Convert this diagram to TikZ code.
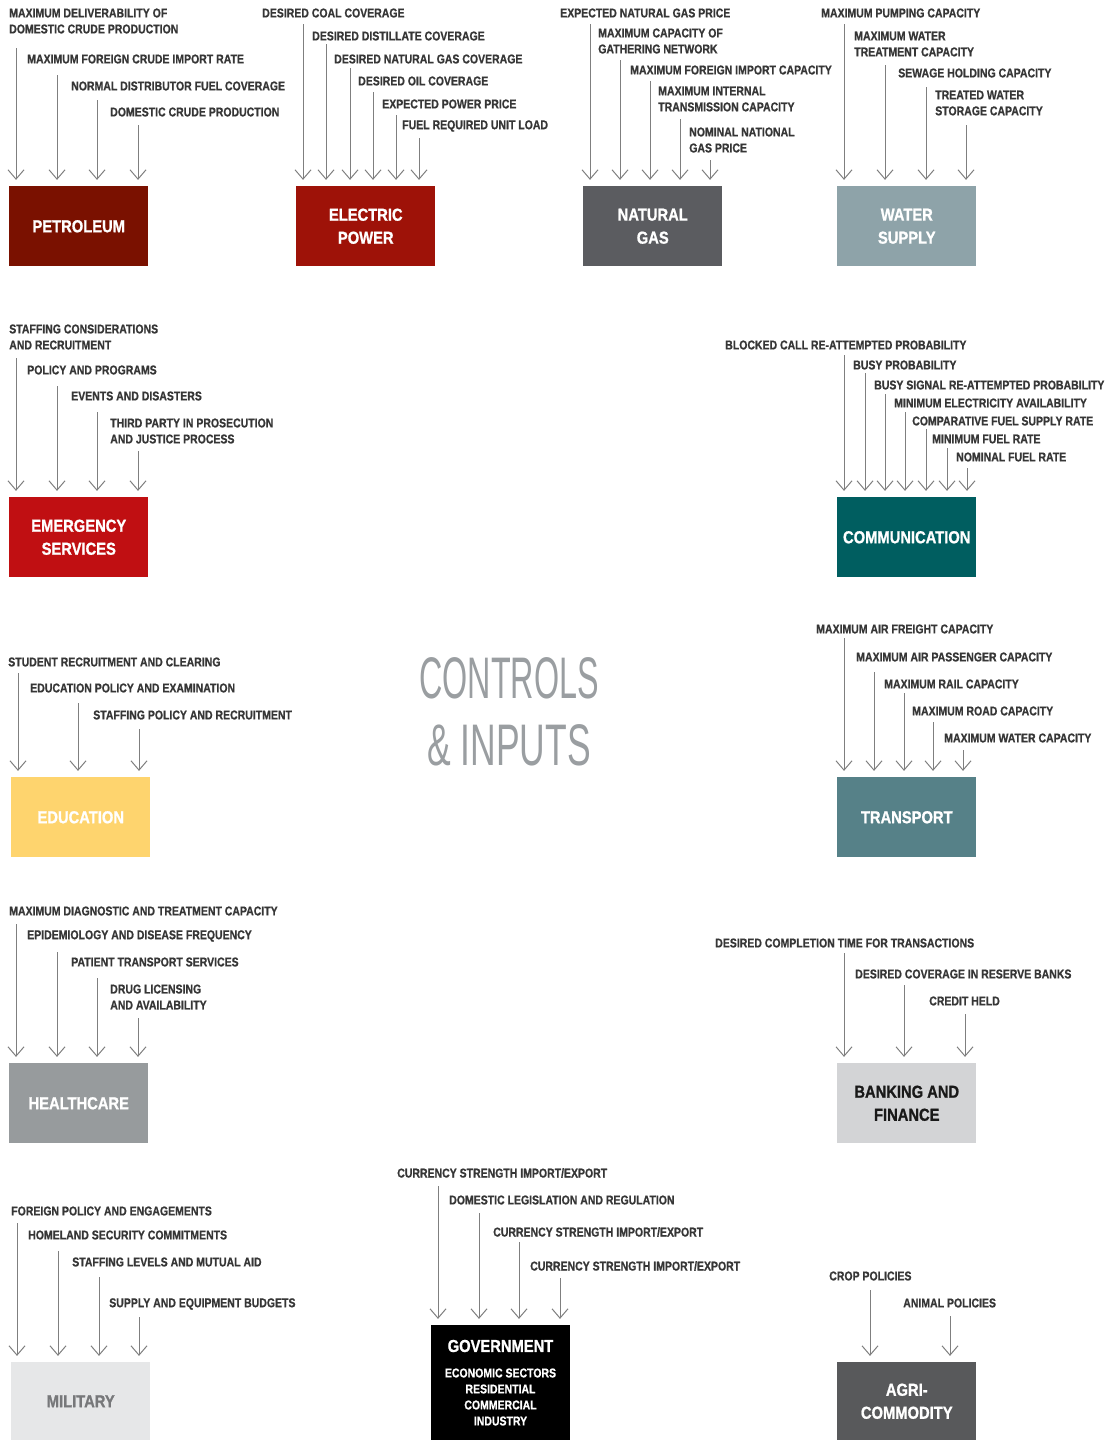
\documentclass[tikz,border=0pt]{standalone}
\usepackage{fontspec}
\setmainfont{Liberation Sans}
\newfontfamily\lblfam[FakeStretch=0.82,FakeBold=0.8]{Liberation Sans Bold}
\newfontfamily\boxfam[FakeStretch=0.85,FakeBold=1]{Liberation Sans Bold}
\newfontfamily\ctlfam[FakeStretch=0.54]{Liberation Sans}
\usetikzlibrary{arrows.meta}
\definecolor{lbl}{HTML}{363636}
\definecolor{arr}{HTML}{7F7F7F}
\definecolor{ctl}{HTML}{9A9EA1}
\definecolor{cPet}{HTML}{7A1100}
\definecolor{cElec}{HTML}{9E1208}
\definecolor{cGas}{HTML}{5B5C60}
\definecolor{cWater}{HTML}{8EA3A9}
\definecolor{cEmer}{HTML}{C00F12}
\definecolor{cComm}{HTML}{005E60}
\definecolor{cEdu}{HTML}{FED46E}
\definecolor{cTrans}{HTML}{568188}
\definecolor{cHealth}{HTML}{979B9D}
\definecolor{cBank}{HTML}{D3D4D6}
\definecolor{cMil}{HTML}{E6E7E8}
\definecolor{cMilText}{HTML}{77787A}
\definecolor{cAgri}{HTML}{58595B}
\tikzset{
  lab/.style={anchor=west, inner sep=0pt, align=left, text=lbl,
    font=\lblfam\fontsize{9.6}{12}\selectfont},
  sector/.style={anchor=north west, minimum width=104.25pt, minimum height=60pt,
    inner sep=0pt, align=center, text=white,
    font=\boxfam\fontsize{13}{17.25}\selectfont},
  inarrow/.style={draw=arr, line width=0.75pt,
    -{Straight Barb[length=7pt,width=12pt]}, shorten >=4.6pt},
  ctltext/.style={inner sep=0pt, text=ctl, font=\ctlfam\fontsize{44}{50}\selectfont}
}
\begin{document}
\begin{tikzpicture}[x=0.75pt,y=-0.75pt]
\useasboundingbox (0,0) rectangle (1110,1440);

% ---------- PETROLEUM ----------
\node[lab] (pl1) at (9,21) {MAXIMUM DELIVERABILITY OF\\DOMESTIC CRUDE PRODUCTION};
\node[lab] (pl2) at (27,59) {MAXIMUM FOREIGN CRUDE IMPORT RATE};
\node[lab] (pl3) at (71,86) {NORMAL DISTRIBUTOR FUEL COVERAGE};
\node[lab] (pl4) at (110,112) {DOMESTIC CRUDE PRODUCTION};
\node[sector, fill=cPet] (pet) at (9,186) {PETROLEUM};
\foreach \x/\y [count=\i] in {16/48,57/75,97/100,138/125}
  {\coordinate (pa\i) at (\x,\y); \draw[inarrow] (pa\i) -- (pa\i |- pet.north);}

% ---------- ELECTRIC POWER ----------
\node[lab] (el1) at (262,13) {DESIRED COAL COVERAGE};
\node[lab] (el2) at (312,36) {DESIRED DISTILLATE COVERAGE};
\node[lab] (el3) at (334,59) {DESIRED NATURAL GAS COVERAGE};
\node[lab] (el4) at (358,81) {DESIRED OIL COVERAGE};
\node[lab] (el5) at (382,104) {EXPECTED POWER PRICE};
\node[lab] (el6) at (402,126) {FUEL REQUIRED UNIT LOAD};
\node[sector, fill=cElec] (elec) at (296,186) {ELECTRIC\\POWER};
\foreach \x/\y [count=\i] in {303/24,326/44,350/68,373/92,396/115,419/138}
  {\coordinate (ea\i) at (\x,\y); \draw[inarrow] (ea\i) -- (ea\i |- elec.north);}

% ---------- NATURAL GAS ----------
\node[lab] (gl1) at (560,13) {EXPECTED NATURAL GAS PRICE};
\node[lab] (gl2) at (598,41) {MAXIMUM CAPACITY OF\\GATHERING NETWORK};
\node[lab] (gl3) at (630,70) {MAXIMUM FOREIGN IMPORT CAPACITY};
\node[lab] (gl4) at (658,99) {MAXIMUM INTERNAL\\TRANSMISSION CAPACITY};
\node[lab] (gl5) at (689,140) {NOMINAL NATIONAL\\GAS PRICE};
\node[sector, fill=cGas] (gas) at (583,186) {NATURAL\\GAS};
\foreach \x/\y [count=\i] in {590/24,620/60,650/81,680/119,710/160}
  {\coordinate (ga\i) at (\x,\y); \draw[inarrow] (ga\i) -- (ga\i |- gas.north);}

% ---------- WATER SUPPLY ----------
\node[lab] (wl1) at (821,13) {MAXIMUM PUMPING CAPACITY};
\node[lab] (wl2) at (854,44) {MAXIMUM WATER\\TREATMENT CAPACITY};
\node[lab] (wl3) at (898,73) {SEWAGE HOLDING CAPACITY};
\node[lab] (wl4) at (935,103) {TREATED WATER\\STORAGE CAPACITY};
\node[sector, fill=cWater] (water) at (837,186) {WATER\\SUPPLY};
\foreach \x/\y [count=\i] in {844/24,885/65,926/87,966/125}
  {\coordinate (wa\i) at (\x,\y); \draw[inarrow] (wa\i) -- (wa\i |- water.north);}

% ---------- EMERGENCY SERVICES ----------
\node[lab] (ml1) at (9,337) {STAFFING CONSIDERATIONS\\AND RECRUITMENT};
\node[lab] (ml2) at (27,370) {POLICY AND PROGRAMS};
\node[lab] (ml3) at (71,396) {EVENTS AND DISASTERS};
\node[lab] (ml4) at (110,431) {THIRD PARTY IN PROSECUTION\\AND JUSTICE PROCESS};
\node[sector, fill=cEmer] (emer) at (9,497) {EMERGENCY\\SERVICES};
\foreach \x/\y [count=\i] in {16/358,57/386,97/412,138/451}
  {\coordinate (ma\i) at (\x,\y); \draw[inarrow] (ma\i) -- (ma\i |- emer.north);}

% ---------- COMMUNICATION ----------
\node[lab] (cl1) at (725,345) {BLOCKED CALL RE-ATTEMPTED PROBABILITY};
\node[lab] (cl2) at (853,365) {BUSY PROBABILITY};
\node[lab] (cl3) at (874,385) {BUSY SIGNAL RE-ATTEMPTED PROBABILITY};
\node[lab] (cl4) at (894,403) {MINIMUM ELECTRICITY AVAILABILITY};
\node[lab] (cl5) at (912,421) {COMPARATIVE FUEL SUPPLY RATE};
\node[lab] (cl6) at (932,439) {MINIMUM FUEL RATE};
\node[lab] (cl7) at (956,457) {NOMINAL FUEL RATE};
\node[sector, fill=cComm] (comm) at (837,497) {COMMUNICATION};
\foreach \x/\y [count=\i] in {844/355,865/373,885/394,905/412,926/429,947/448,967/468}
  {\coordinate (ca\i) at (\x,\y); \draw[inarrow] (ca\i) -- (ca\i |- comm.north);}

% ---------- EDUCATION ----------
\node[lab] (dl1) at (8,662) {STUDENT RECRUITMENT AND CLEARING};
\node[lab] (dl2) at (30,688) {EDUCATION POLICY AND EXAMINATION};
\node[lab] (dl3) at (93,715) {STAFFING POLICY AND RECRUITMENT};
\node[sector, fill=cEdu] (edu) at (11,777) {EDUCATION};
\foreach \x/\y [count=\i] in {18/673,78/703,139/729}
  {\coordinate (da\i) at (\x,\y); \draw[inarrow] (da\i) -- (da\i |- edu.north);}

% ---------- CONTROLS & INPUTS ----------
\node[ctltext] (ctl1) at (509,678) {\scalebox{1.02}[1]{CONTROLS}};
\node[ctltext] (ctl2) at (509,745) {\scalebox{1.12}[1]{\&~INPUTS}};

% ---------- TRANSPORT ----------
\node[lab] (tl1) at (816,629) {MAXIMUM AIR FREIGHT CAPACITY};
\node[lab] (tl2) at (856,657) {MAXIMUM AIR PASSENGER CAPACITY};
\node[lab] (tl3) at (884,684) {MAXIMUM RAIL CAPACITY};
\node[lab] (tl4) at (912,711) {MAXIMUM ROAD CAPACITY};
\node[lab] (tl5) at (944,738) {MAXIMUM WATER CAPACITY};
\node[sector, fill=cTrans] (trans) at (837,777) {TRANSPORT};
\foreach \x/\y [count=\i] in {844/638,874/672,904/693,933/722,963/750}
  {\coordinate (ta\i) at (\x,\y); \draw[inarrow] (ta\i) -- (ta\i |- trans.north);}

% ---------- HEALTHCARE ----------
\node[lab] (hl1) at (9,911) {MAXIMUM DIAGNOSTIC AND TREATMENT CAPACITY};
\node[lab] (hl2) at (27,936) {EPIDEMIOLOGY AND DISEASE FREQUENCY};
\node[lab] (hl3) at (71,962) {PATIENT TRANSPORT SERVICES};
\node[lab] (hl4) at (110,997) {DRUG LICENSING\\AND AVAILABILITY};
\node[sector, fill=cHealth] (health) at (9,1063) {HEALTHCARE};
\foreach \x/\y [count=\i] in {16/924,57/952,97/978,138/1018}
  {\coordinate (ha\i) at (\x,\y); \draw[inarrow] (ha\i) -- (ha\i |- health.north);}

% ---------- BANKING AND FINANCE ----------
\node[lab] (bl1) at (715,943) {DESIRED COMPLETION TIME FOR TRANSACTIONS};
\node[lab] (bl2) at (855,974) {DESIRED COVERAGE IN RESERVE BANKS};
\node[lab] (bl3) at (929,1001) {CREDIT HELD};
\node[sector, fill=cBank, text=black!90] (bank) at (837,1063) {BANKING AND\\FINANCE};
\foreach \x/\y [count=\i] in {844/953,904/985,965/1014}
  {\coordinate (ba\i) at (\x,\y); \draw[inarrow] (ba\i) -- (ba\i |- bank.north);}

% ---------- MILITARY ----------
\node[lab] (yl1) at (11,1211) {FOREIGN POLICY AND ENGAGEMENTS};
\node[lab] (yl2) at (28,1235) {HOMELAND SECURITY COMMITMENTS};
\node[lab] (yl3) at (72,1262) {STAFFING LEVELS AND MUTUAL AID};
\node[lab] (yl4) at (109,1304) {SUPPLY AND EQUIPMENT BUDGETS};
\node[sector, fill=cMil, text=cMilText, minimum height=58.5pt] (mil) at (11,1362) {MILITARY};
\foreach \x/\y [count=\i] in {17/1223,58/1251,99/1277,139/1317}
  {\coordinate (ya\i) at (\x,\y); \draw[inarrow] (ya\i) -- (ya\i |- mil.north);}

% ---------- GOVERNMENT ----------
\node[lab] (vl1) at (397,1173) {CURRENCY STRENGTH IMPORT/EXPORT};
\node[lab] (vl2) at (449,1200) {DOMESTIC LEGISLATION AND REGULATION};
\node[lab] (vl3) at (493,1232) {CURRENCY STRENGTH IMPORT/EXPORT};
\node[lab] (vl4) at (530,1266) {CURRENCY STRENGTH IMPORT/EXPORT};
\node[sector, fill=black, minimum height=86.25pt] (gov) at (431,1325) {};
\node[inner sep=0pt, text=white, font=\boxfam\fontsize{13}{17.25}\selectfont] (govt) at (500.5,1346) {GOVERNMENT};
\node[inner sep=0pt, align=center, text=white, font=\lblfam\fontsize{9.6}{12}\selectfont] (govs) at (500.5,1397)
  {ECONOMIC SECTORS\\RESIDENTIAL\\COMMERCIAL\\INDUSTRY};
\foreach \x/\y [count=\i] in {438/1186,479/1213,519/1242,560/1278}
  {\coordinate (va\i) at (\x,\y); \draw[inarrow] (va\i) -- (va\i |- gov.north);}

% ---------- AGRI-COMMODITY ----------
\node[lab] (al1) at (829,1276) {CROP POLICIES};
\node[lab] (al2) at (903,1303) {ANIMAL POLICIES};
\node[sector, fill=cAgri, minimum height=58.5pt] (agri) at (837,1362) {AGRI-\\COMMODITY};
\foreach \x/\y [count=\i] in {870/1290,950/1316}
  {\coordinate (aa\i) at (\x,\y); \draw[inarrow] (aa\i) -- (aa\i |- agri.north);}
\end{tikzpicture}
\end{document}
